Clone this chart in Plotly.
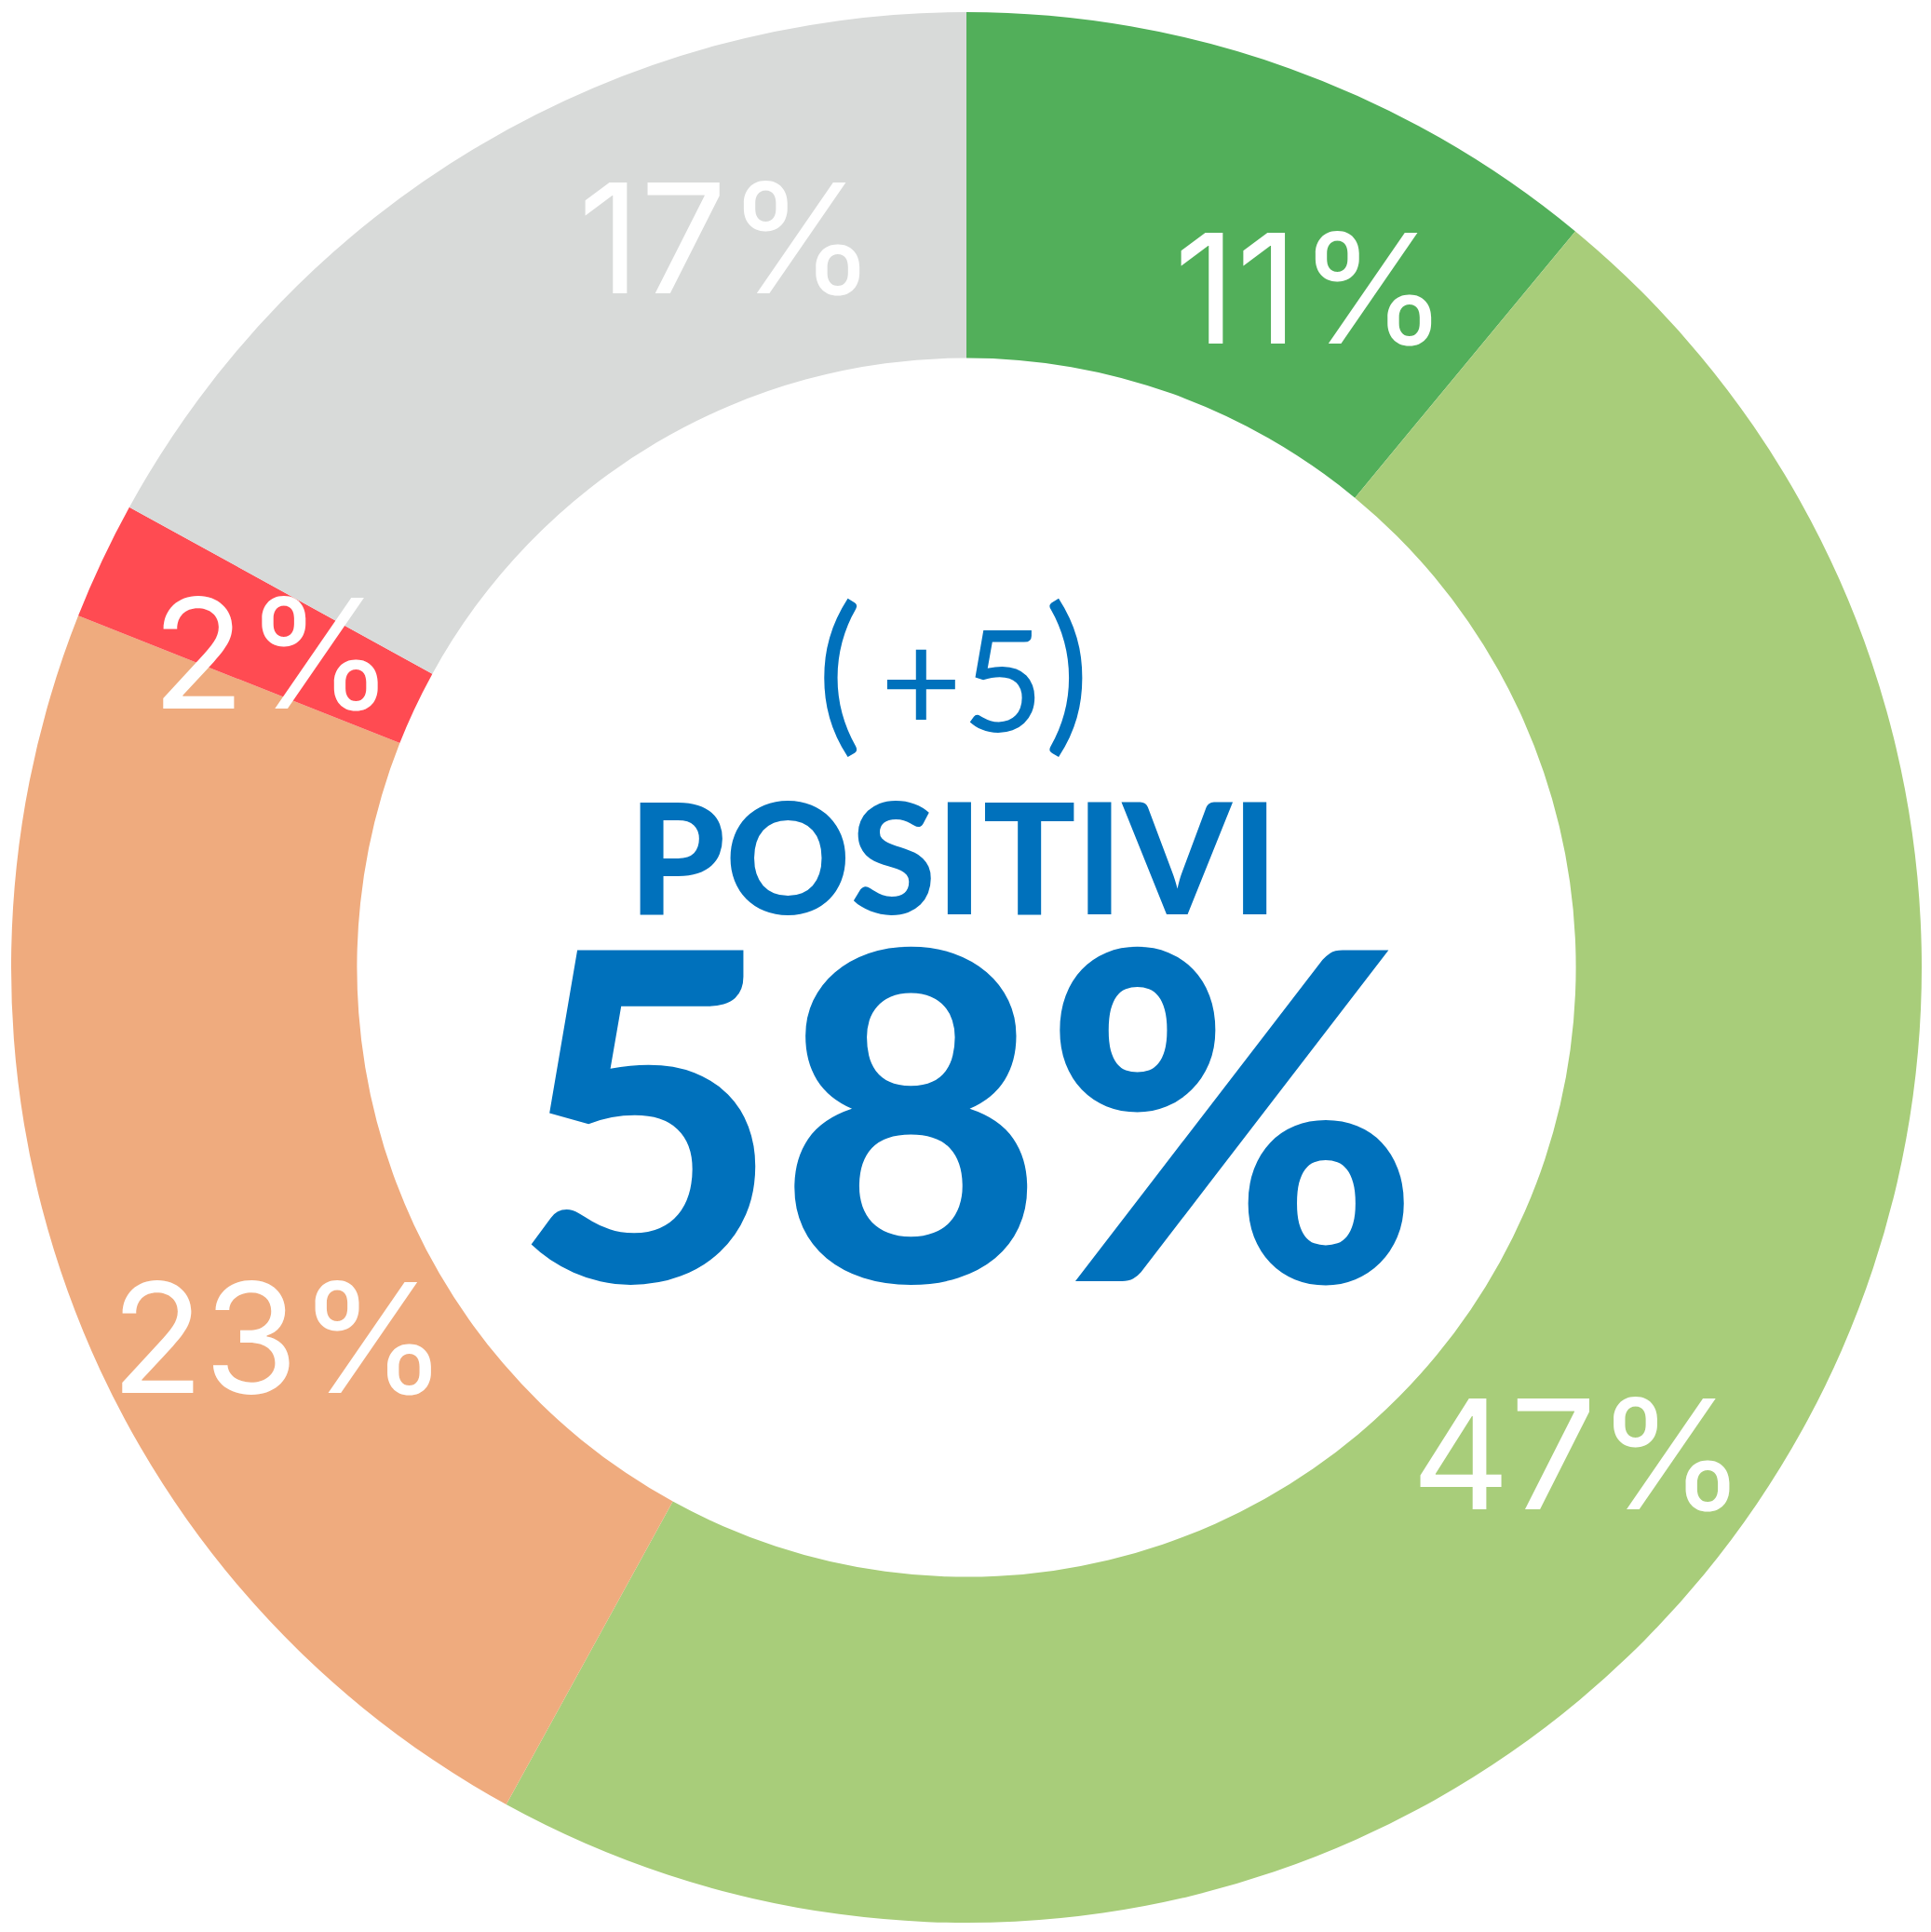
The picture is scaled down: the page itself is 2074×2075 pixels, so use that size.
import math
import plotly.graph_objects as go

# ---- data ----
categories = ["Molto positivo", "Abbastanza positivo", "Abbastanza negativo", "Molto negativo", "Non so"]
values = [11, 47, 23, 2, 17]
slice_colors = ["#52AF5A", "#A8CD7A", "#EFAB7E", "#FF4B52", "#D8DAD9"]

headline_value = 58
headline_label = "POSITIVI"
change_value = "+5"

# ---- label placement (angle clockwise from 12 o'clock, degrees; radius as fraction of pie radius) ----
label_angles = [26.8, 128.5, 241.7, 294.4, 341.8]
label_radius = [0.80, 0.82, 0.82, 0.80, 0.807]

# page has an 8px body margin: size the figure so that it fits, and work in figure pixels
W, H = 2058, 2059
ML, MR, MT, MB = 4, 2, 5, 2
pie_r = min(W - ML - MR, H - MT - MB) / 2
cx = ML + (W - ML - MR) / 2
cy = MT + (H - MT - MB) / 2

LABEL_FONT = "Inter"
CENTER_FONT = "Lato"

fig = go.Figure(go.Pie(
    labels=categories,
    values=values,
    sort=False,
    direction="clockwise",
    rotation=0,
    hole=0.638,
    marker=dict(colors=slice_colors, line=dict(width=0)),
    textinfo="none",
    hoverinfo="label+percent",
    showlegend=False,
))

total = sum(values)
annotations = []
for v, ang, rf in zip(values, label_angles, label_radius):
    a = math.radians(ang)
    px = cx + rf * pie_r * math.sin(a)
    py = cy - rf * pie_r * math.cos(a)
    annotations.append(dict(
        x=px / W, y=1 - py / H, xref="paper", yref="paper",
        text=f"{round(v / total * 100)}%", showarrow=False,
        xanchor="center", yanchor="middle", yshift=1,
        font=dict(family=LABEL_FONT, size=164, color="white", weight=400),
    ))

blue = "#0071BC"
annotations.append(dict(
    x=(1023 - 8) / W, y=1 - (712 - 8) / H, xref="paper", yref="paper",
    text=f"<span style='font-size:184px'>(</span>\u2009{change_value}<span style='font-size:184px'>)</span>",
    showarrow=False, xanchor="center", yanchor="middle",
    font=dict(family=CENTER_FONT, size=152, color=blue, weight=400),
))
annotations.append(dict(
    x=(1023 - 8) / W, y=1 - (922 - 8) / H, xref="paper", yref="paper", text=headline_label,
    showarrow=False, xanchor="center", yanchor="middle", yshift=6,
    font=dict(family=CENTER_FONT, size=166, color=blue, weight=900),
))
annotations.append(dict(
    x=(1038 - 8) / W, y=1 - (1198 - 8) / H, xref="paper", yref="paper", text=f"{headline_value}%",
    showarrow=False, xanchor="center", yanchor="middle", yshift=13,
    font=dict(family=CENTER_FONT, size=490, color=blue, weight=900),
))

fig.update_layout(
    width=W, height=H,
    margin=dict(l=ML, r=MR, t=MT, b=MB, pad=0),
    paper_bgcolor="white", plot_bgcolor="white",
    annotations=annotations,
)

fig.write_html("out.html")
